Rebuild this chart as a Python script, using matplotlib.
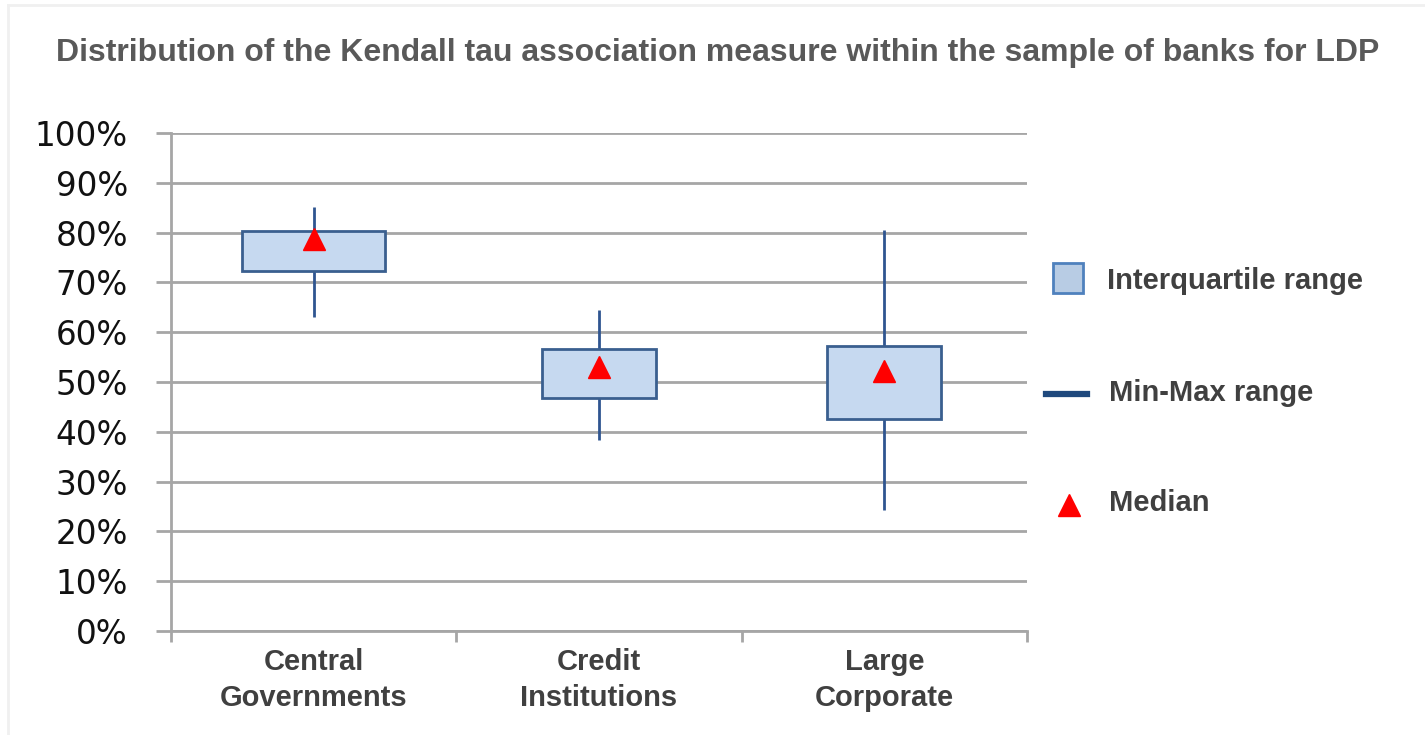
import matplotlib
matplotlib.use("Agg")
import matplotlib.pyplot as plt
from matplotlib.lines import Line2D
from matplotlib.patches import Rectangle

# values, in %
categories = ["Central\nGovernments", "Credit\nInstitutions", "Large\nCorporate"]
v_min = [63.0, 38.3, 24.2]
q1 = [72.3, 46.8, 42.6]
median = [78.8, 53.0, 52.2]
q3 = [80.3, 56.6, 57.2]
v_max = [85.1, 64.5, 80.5]
box_width = [0.5, 0.4, 0.4]

y_ticks = list(range(0, 101, 10))
y_labels = [f"{t}%" for t in y_ticks]

legend_labels = ["Interquartile range", "Min-Max range", "Median"]
title = "Distribution of the Kendall tau association measure within the sample of banks for LDP"

box_fill = "#c6d9f0"
box_edge = "#3a5f8f"
whisker = "#2f5590"
grid_col = "#a6a6a6"
text_col = "#404040"
bold_font = "Liberation Sans"
W, H = 1425, 735

fig = plt.figure(figsize=(W / 100, H / 100), dpi=100)
ax = fig.add_axes([171 / W, 1 - 631 / H, (1027 - 171) / W, (631 - 133) / H])

x = list(range(len(categories)))
ax.vlines(x, v_min, v_max, color=whisker, linewidth=2, zorder=2)
ax.bar(x, [b - a for a, b in zip(q1, q3)], bottom=q1, width=box_width,
       color=box_fill, edgecolor=box_edge, linewidth=2, zorder=3)
ax.plot(x, median, linestyle="none", marker="^", markersize=16,
        color="#ff0000", zorder=4)

ax.set_xlim(-0.5, 2.5)
ax.set_ylim(0, 100)
ax.set_yticks(y_ticks)
ax.set_yticklabels(y_labels, fontsize=23.5, color="#111111")
ax.yaxis.grid(True, color=grid_col, linewidth=2)
ax.set_axisbelow(True)
ax.tick_params(axis="y", length=11, width=2, color=grid_col, pad=20)

ax.set_xticks(x)
ax.set_xticklabels(categories, fontsize=21, fontweight="bold",
                   color=text_col, family=bold_font, linespacing=1.4)
ax.set_xticks([-0.5, 0.5, 1.5, 2.5], minor=True)
ax.tick_params(axis="x", which="major", length=0, pad=12)
ax.tick_params(axis="x", which="minor", length=8, width=2, color=grid_col)

for side in ["top", "right"]:
    ax.spines[side].set_visible(False)
ax.spines["left"].set_color(grid_col)
ax.spines["left"].set_linewidth(2)
ax.spines["bottom"].set_color(grid_col)
ax.spines["bottom"].set_linewidth(2)

fig.text(718 / W, 1 - 53 / H, title, ha="center", va="center",
         fontsize=23, fontweight="bold", color="#595959", family=bold_font)

# faint frame along the top and left edges
fig.add_artist(Line2D([8 / W, 1], [1 - 5 / H, 1 - 5 / H], color="#f0f0f0",
                      linewidth=2, transform=fig.transFigure))
fig.add_artist(Line2D([8 / W, 8 / W], [0, 1 - 5 / H], color="#f0f0f0",
                      linewidth=2, transform=fig.transFigure))

# legend drawn by hand, to the right of the plot
fig.add_artist(Rectangle((1053 / W, 1 - 293 / H), 30 / W, 30 / H,
                         facecolor="#b8cce4", edgecolor="#4f81bd", linewidth=2,
                         transform=fig.transFigure))
fig.add_artist(Line2D([1046 / W, 1087 / W], [1 - 394 / H, 1 - 394 / H],
                      color="#1f497d", linewidth=4.5, transform=fig.transFigure))
fig.add_artist(Line2D([1069 / W], [1 - 505 / H], marker="^", markersize=16,
                      color="#ff0000", linestyle="none", transform=fig.transFigure))
for lbl, ypx, xpx in zip(legend_labels, [281, 393, 503], [1107, 1109, 1109]):
    fig.text(xpx / W, 1 - ypx / H, lbl, ha="left", va="center", fontsize=21,
             fontweight="bold", color=text_col, family=bold_font)

fig.savefig("out.png", dpi=100)
